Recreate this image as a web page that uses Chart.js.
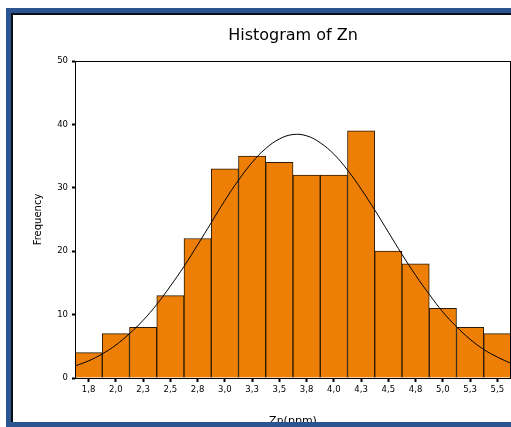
<!DOCTYPE html>
<html>
<head>
<meta charset="utf-8">
<title>Histogram of Zn</title>
<script src="https://cdn.jsdelivr.net/npm/chart.js@4.4.1/dist/chart.umd.min.js"></script>
<style>
    html, body { margin: 0; padding: 0; background: #fff; }
    canvas { display: block; }
</style>
</head>
<body>
<canvas id="zn-histogram" width="511" height="427"></canvas>
<script>
// Histogram bins (class midpoints as printed on the axis)
const binLabels = ['1,8', '2,0', '2,3', '2,5', '2,8', '3,0', '3,3', '3,5',
                   '3,8', '4,0', '4,3', '4,5', '4,8', '5,0', '5,3', '5,5'];
const frequencies = [4, 7, 8, 13, 22, 33, 35, 34, 32, 32, 39, 20, 18, 11, 8, 7];

// Fitted normal curve (x in ppm, y in frequency)
const curveX = [1.625, 1.75, 1.875, 2.0, 2.125, 2.25, 2.375, 2.5, 2.625, 2.75, 2.875,
                3.0, 3.125, 3.25, 3.375, 3.5, 3.625, 3.75, 3.875, 4.0, 4.125, 4.25,
                4.375, 4.5, 4.625, 4.75, 4.875, 5.0, 5.125, 5.25, 5.375, 5.5, 5.625];
const curveY = [1.9, 2.7, 3.8, 5.2, 7.0, 9.1, 11.6, 14.5, 17.6, 21.0, 24.5,
                28.0, 31.2, 34.0, 36.2, 37.7, 38.4, 38.2, 37.1, 35.3, 32.8, 29.8,
                26.5, 23.0, 19.5, 16.2, 13.2, 10.4, 8.1, 6.1, 4.5, 3.3, 2.3];

const yTicks = [0, 10, 20, 30, 40, 50];

const tickFont = { family: "'DejaVu Sans', Verdana, sans-serif", size: 8.5 };

/**
 * Blue window frame behind the chart and the plot box on top of it
 */
const framePlugin = {
    id: 'frame',
    beforeDraw(chart) {
        const ctx = chart.ctx;
        ctx.save();
        ctx.fillStyle = '#ffffff';
        ctx.fillRect(0, 0, chart.width, chart.height);
        // outer blue frame
        ctx.fillStyle = '#2c5590';
        ctx.fillRect(6, 8, chart.width - 6, 5);
        ctx.fillRect(6, 8, 5, chart.height - 8);
        // inner dark edge
        ctx.fillStyle = '#0b0f18';
        ctx.fillRect(11, 13, chart.width - 11, 2);
        ctx.fillRect(11, 13, 2, chart.height - 13);
        ctx.restore();
    },
    afterDraw(chart) {
        const ctx = chart.ctx;
        const a = chart.chartArea;
        ctx.save();
        ctx.strokeStyle = '#000';
        ctx.lineWidth = 1;
        ctx.strokeRect(a.left + 0.5, a.top + 0.5, a.right - a.left - 1, a.bottom - a.top);
        // bottom band of the window frame
        ctx.fillStyle = '#2c5590';
        ctx.fillRect(6, 422, chart.width - 6, chart.height - 422);
        ctx.restore();
    }
};

function createHistogram() {
    const ctx = document.getElementById('zn-histogram').getContext('2d');

    const curvePoints = curveX.map((x, i) => ({ x: x, y: curveY[i] }));

    new Chart(ctx, {
        type: 'bar',
        data: {
            labels: binLabels,
            datasets: [
                {
                    type: 'line',
                    label: 'Normal',
                    data: curvePoints,
                    xAxisID: 'xc',
                    borderColor: '#000',
                    borderWidth: 1,
                    pointRadius: 0,
                    tension: 0.4,
                    order: 0
                },
                {
                    label: 'Frequency',
                    data: frequencies,
                    backgroundColor: '#ee7f06',
                    borderColor: '#2b1a05',
                    borderWidth: 1,
                    barPercentage: 1,
                    categoryPercentage: 1,
                    grouped: false,
                    order: 1
                }
            ]
        },
        options: {
            responsive: false,
            animation: false,
            layout: { padding: 0 },
            plugins: {
                legend: { display: false },
                tooltip: { enabled: false },
                title: {
                    display: true,
                    text: 'Histogram of Zn',
                    fullSize: false,
                    color: '#000',
                    font: { family: "'DejaVu Sans', sans-serif", size: 16, weight: 'normal', lineHeight: 1.2 },
                    padding: { top: 26, bottom: 15.8 }
                }
            },
            scales: {
                x: {
                    offset: true,
                    grid: {
                        display: true,
                        drawOnChartArea: false,
                        offset: false,
                        color: '#000',
                        tickLength: 4,
                        tickWidth: 2
                    },
                    border: { display: true, color: '#000', width: 1 },
                    ticks: { color: '#000', font: tickFont, padding: 3, maxRotation: 0, autoSkip: false },
                    title: {
                        display: true,
                        text: 'Zn(ppm)',
                        color: '#000',
                        font: { family: "'DejaVu Sans', sans-serif", size: 11, lineHeight: 1 },
                        padding: { top: 0, bottom: 0 }
                    },
                    afterFit: function(scale) { scale.height = 49; }
                },
                xc: {
                    type: 'linear',
                    display: false,
                    offset: false,
                    min: curveX[0],
                    max: curveX[curveX.length - 1]
                },
                y: {
                    min: yTicks[0],
                    max: yTicks[yTicks.length - 1],
                    grid: {
                        display: true,
                        drawOnChartArea: false,
                        color: '#000',
                        tickLength: 3,
                        tickWidth: 2
                    },
                    border: { display: true, color: '#000', width: 1 },
                    ticks: { stepSize: 10, color: '#000', font: tickFont, padding: 4 },
                    afterBuildTicks: function(scale) {
                        scale.ticks = yTicks.map(v => ({ value: v }));
                    },
                    title: {
                        display: true,
                        text: 'Frequency',
                        color: '#000',
                        font: { family: "'DejaVu Sans', sans-serif", size: 10, lineHeight: 1.2 },
                        padding: { top: 32, bottom: 0 }
                    },
                    afterFit: function(scale) { scale.width = 75; }
                }
            }
        },
        plugins: [framePlugin]
    });
}

createHistogram();
</script>
</body>
</html>
